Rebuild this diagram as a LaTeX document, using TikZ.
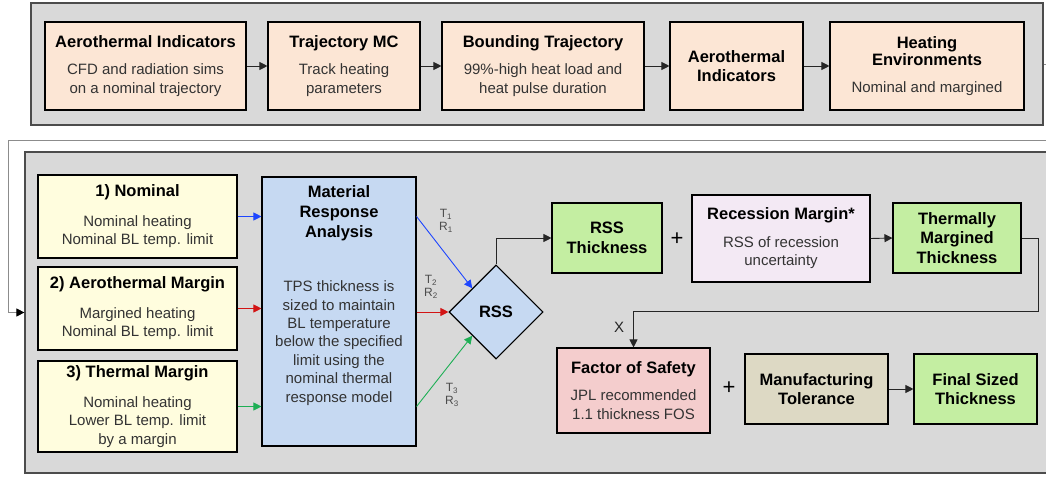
\documentclass[tikz,border=0pt]{standalone}
\usepackage{fontspec}
\setmainfont{Liberation Sans}
\usetikzlibrary{shapes.geometric, arrows.meta, positioning}
\definecolor{panelgray}{RGB}{217,217,217}
\definecolor{peach}{RGB}{252,230,213}
\definecolor{paleyellow}{RGB}{255,253,222}
\definecolor{mrablue}{RGB}{198,217,242}
\definecolor{rssgreen}{RGB}{196,238,162}
\definecolor{lavender}{RGB}{243,233,244}
\definecolor{fospink}{RGB}{244,205,205}
\definecolor{tolertan}{RGB}{221,217,196}
\definecolor{lineblue}{RGB}{30,70,255}
\definecolor{linered}{RGB}{210,20,20}
\definecolor{linegreen}{RGB}{30,175,85}
\newcommand{\hd}[1]{{\color{black}\bfseries\fontsize{16.5}{20}\selectfont #1}}

\begin{document}
\begin{tikzpicture}[
    x=1pt, y=-1pt,
    panel/.style={draw=black!70, line width=1.2pt, fill=panelgray, inner sep=0pt},
    box/.style={draw, line width=1.1pt, align=center, inner sep=0pt, text=black!80, font=\fontsize{15}{18.5}\selectfont},
    tbox/.style={box, text=black, font=\bfseries\fontsize{16.5}{19.5}\selectfont},
    head/.style={align=center, font=\bfseries\fontsize{16.5}{20}\selectfont},
    body/.style={align=center, text=black!80, font=\fontsize{15}{18.4}\selectfont},
    arrow/.style={-{Triangle[length=8pt, width=8pt]}, line width=0.9pt, black!85},
    feed/.style={-{Triangle[length=8pt, width=8pt, color=black]}, line width=0.9pt, black!45},
    sub/.style={align=center, text=black!70, font=\fontsize{12}{13.5}\selectfont},
    op/.style={font=\fontsize{22}{22}\selectfont}
]
    \useasboundingbox (0,0) rectangle (1046,478);
    \clip (0,0) rectangle (1046,478);

    % Panels
    \node[panel, minimum width=1012, minimum height=122] (topPanel) at (537,64) {};
    \node[panel, minimum width=1040, minimum height=321] (lowPanel) at (545,312.5) {};

    % Heating environments chain
    \node[box, fill=peach, minimum width=201, minimum height=88] (aiA) at (145.5,66) {\hd{Aerothermal Indicators}\\[9pt]CFD and radiation sims\\on a nominal trajectory};
    \node[box, fill=peach, minimum width=152, minimum height=88] (tmc) at (344,66) {\hd{Trajectory MC}\\[9pt]Track heating\\parameters};
    \node[box, fill=peach, minimum width=202, minimum height=88] (bound) at (543,66) {\hd{Bounding Trajectory}\\[9pt]99\%-high heat load and\\heat pulse duration};
    \node[tbox, fill=peach, minimum width=133, minimum height=88] (aiB) at (736.5,66) {Aerothermal\\Indicators};
    \node[box, fill=peach, minimum width=194, minimum height=88] (heat) at (927,66) {\hd{Heating}\\[-1.5pt]\hd{Environments}\\[9pt]Nominal and margined};

    \draw[arrow] (aiA) -- (tmc);
    \draw[arrow] (tmc) -- (bound);
    \draw[arrow] (bound) -- (aiB);
    \draw[arrow] (aiB) -- (heat);

    % Feedback into the sizing panel
    \coordinate (fbR) at (1052,140);
    \coordinate (fbL) at (8,140);
    \draw[feed] (topPanel.east) -| (fbR) -- (fbL) |- (lowPanel.west);

    % Sizing cases
    \node[box, fill=paleyellow, minimum width=199, minimum height=83] (nom) at (137.5,216.5) {\hd{1) Nominal}\\[11pt]Nominal heating\\Nominal BL temp. limit};
    \node[box, fill=paleyellow, minimum width=199, minimum height=83] (aero) at (137.5,308.5) {\hd{2) Aerothermal Margin}\\[11pt]Margined heating\\Nominal BL temp. limit};
    \node[box, fill=paleyellow, minimum width=199, minimum height=91] (therm) at (137.5,406.5) {\hd{3) Thermal Margin}\\[11pt]Nominal heating\\Lower BL temp. limit\\by a margin};

    \node[box, fill=mrablue, minimum width=154, minimum height=269] (mra) at (339,311.5) {};
    \node[head] (mraTitle) at (339,213) {Material\\Response\\Analysis};
    \node[body] (mraBody) at (339,343) {TPS thickness is\\sized to maintain\\BL temperature\\below the specified\\limit using the\\nominal thermal\\response model};

    \draw[arrow, lineblue] (nom.east) -- (nom.east -| mra.west);
    \draw[arrow, linered] (aero.east) -- (aero.east -| mra.west);
    \draw[arrow, linegreen] (therm.east) -- (therm.east -| mra.west);

    % Root sum square
    \node[draw, line width=1.1pt, diamond, aspect=1, minimum width=94, minimum height=94, inner sep=0pt, fill=mrablue, font=\bfseries\fontsize{16.5}{20}\selectfont] (rss) at (496,312) {RSS};

    \draw[arrow, lineblue] (mra.east |- nom.east) -- (rss.north west);
    \draw[arrow, linered] (mra.east |- rss.west) -- (rss.west);
    \draw[arrow, linegreen] (mra.east |- therm.east) -- (rss.south west);

    \node[sub] (trA) at (446,221) {T\textsubscript{1}\\R\textsubscript{1}};
    \node[sub] (trB) at (431,287) {T\textsubscript{2}\\R\textsubscript{2}};
    \node[sub] (trC) at (452,395) {T\textsubscript{3}\\R\textsubscript{3}};

    % Thickness build-up
    \node[tbox, fill=rssgreen, minimum width=110, minimum height=70] (rssT) at (607,238) {RSS\\Thickness};
    \node[op] (plusA) at (677,239) {+};
    \node[box, fill=lavender, minimum width=178, minimum height=87] (rec) at (781,238.5) {\hd{Recession Margin*}\\[9pt]RSS of recession\\uncertainty};
    \node[tbox, fill=rssgreen, minimum width=128, minimum height=70] (tmt) at (957,238) {Thermally\\Margined\\Thickness};

    \draw[arrow] (rss.north) |- (rssT.west);
    \draw[arrow] (rec.east) -- (tmt.west);

    \node[box, fill=fospink, minimum width=153, minimum height=85] (fos) at (633.5,390.5) {\hd{Factor of Safety}\\[9pt]JPL recommended\\1.1 thickness FOS};
    \node[op] (plusB) at (729,388) {+};
    \node[tbox, fill=tolertan, minimum width=143, minimum height=70] (mfg) at (816.5,389) {Manufacturing\\Tolerance};
    \node[tbox, fill=rssgreen, minimum width=123, minimum height=70] (final) at (975.5,389) {Final Sized\\Thickness};

    \coordinate (bendR) at (1038,311);
    \draw[arrow] (tmt.east) -| (bendR) -| (fos.north);
    \node[font=\fontsize{15}{18}\selectfont, text=black!85] (times) at (619,327) {X};
    \draw[arrow] (mfg.east) -- (final.west);
\end{tikzpicture}
\end{document}
